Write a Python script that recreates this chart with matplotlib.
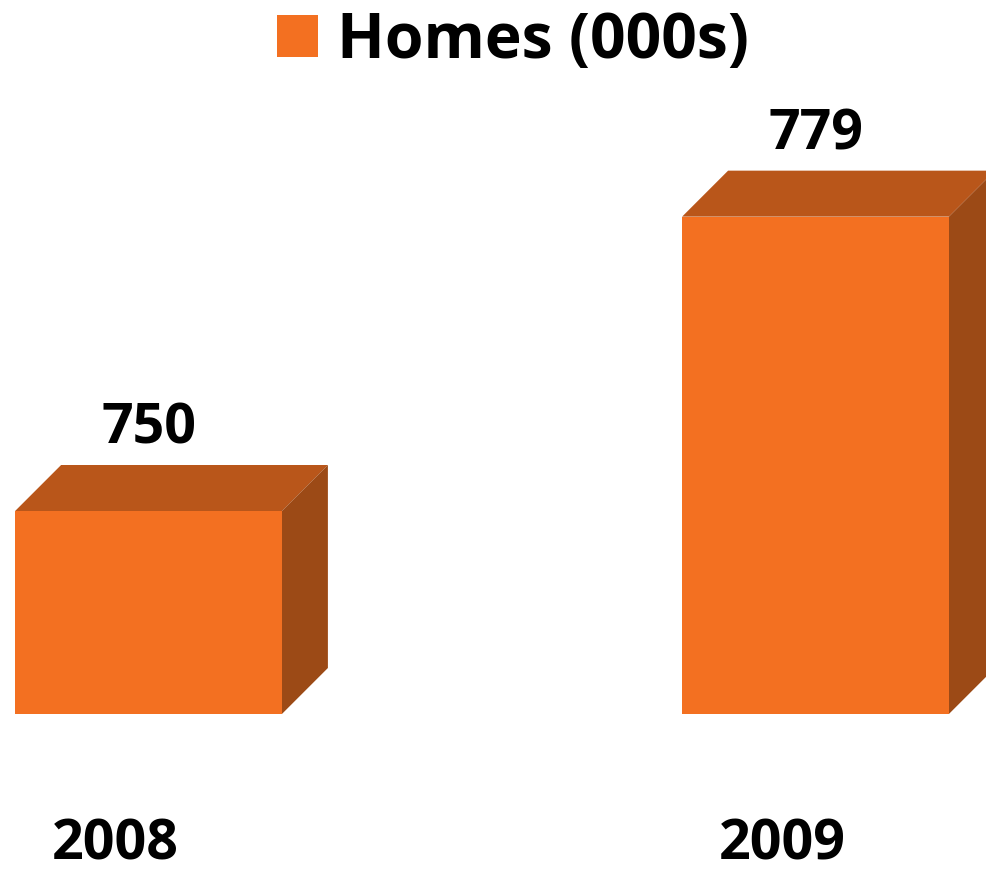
import matplotlib
matplotlib.use('Agg')
import matplotlib.pyplot as plt
from matplotlib.patches import Polygon

# ---- data ----
categories = ['2008', '2009']
values = [750, 779]
series_name = 'Homes (000s)'
axis_min = 730

# ---- style ----
FRONT = '#F37021'
TOP = '#B9561A'
SIDE = '#9C4A16'
FONT = ['Open Sans', 'DejaVu Sans']
plt.rcParams['font.family'] = FONT
plt.rcParams['font.weight'] = 'bold'

W, H, DPI = 986, 876, 100
fig = plt.figure(figsize=(W / DPI, H / DPI), dpi=DPI)
ax = fig.add_axes([0, 0, 1, 1])

# axis scale chosen to mirror the reference layout
py = 10.15          # pixels per unit (y)
base_px = 714       # baseline pixel from top
px = 667            # pixels per category step
c0 = 148.5          # first category centre pixel
ax.set_ylim(axis_min - (H - base_px) / py, axis_min + base_px / py)
ax.set_xlim(-c0 / px, (W - c0) / px)
ax.axis('off')

depth_px = 46
dx = depth_px / px
dy = depth_px / py
width = 0.4

xs = list(range(len(categories)))
bars = ax.bar(xs, [v - axis_min for v in values], bottom=axis_min, width=width,
              color=FRONT, linewidth=0, zorder=3, label=series_name)

for x, v in zip(xs, values):
    x0, x1 = x - width / 2, x + width / 2
    top = Polygon([(x0, v), (x1, v), (x1 + dx, v + dy), (x0 + dx, v + dy)],
                  closed=True, facecolor=TOP, edgecolor='none', zorder=2)
    side = Polygon([(x1, axis_min), (x1 + dx, axis_min + dy), (x1 + dx, v + dy), (x1, v)],
                   closed=True, facecolor=SIDE, edgecolor='none', zorder=2)
    ax.add_patch(top)
    ax.add_patch(side)
    ax.annotate(str(v), (x, v), xytext=(0, 67 * 72 / DPI), textcoords='offset points',
                ha='center', va='baseline', fontsize=40, fontweight='bold', color='black')
    ax.annotate(categories[x], (x, axis_min), xytext=(-33.5 * 72 / DPI, -146 * 72 / DPI),
                textcoords='offset points', ha='center', va='baseline',
                fontsize=40, fontweight='bold', color='black')

leg = fig.legend(handles=[bars], labels=[series_name], loc='upper left',
                 bbox_to_anchor=(277 / W, 1 - 10 / H), frameon=False,
                 fontsize=45, handlelength=0.66, handleheight=0.67,
                 handletextpad=0.3, borderpad=0, borderaxespad=0)
for t in leg.get_texts():
    t.set_fontweight('bold')

fig.savefig('out.png', dpi=DPI)
